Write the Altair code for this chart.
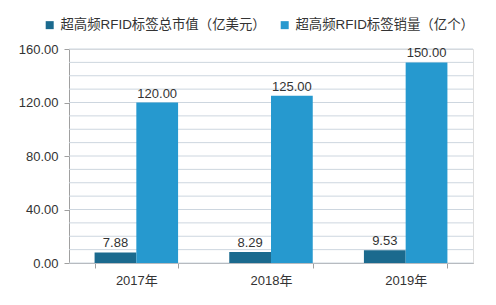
import altair as alt
import pandas as pd

years = ["2017年", "2018年", "2019年"]
series = ["超高频RFID标签总市值（亿美元）", "超高频RFID标签销量（亿个）"]
market_value = [7.88, 8.29, 9.53]
sales = [120.00, 125.00, 150.00]
grid_values = list(range(0, 161, 10))

rows = []
for i, y in enumerate(years):
    rows.append({"year": y, "series": series[0], "value": market_value[i], "order": 0})
    rows.append({"year": y, "series": series[1], "value": sales[i], "order": 1})
df = pd.DataFrame(rows)
grid_df = pd.DataFrame({"g": grid_values})

FONT = "Liberation Sans, Arial, Noto Sans CJK SC"
colors = ["#1B6A8E", "#2699CF"]

xscale = alt.Scale(domain=years, paddingInner=0.38, paddingOuter=0.19)
yscale = alt.Scale(domain=[0, 160], nice=False)

grid = alt.Chart(grid_df).mark_rule(color="#CDD6DF", strokeWidth=1).encode(
    y=alt.Y("g:Q", scale=yscale)
)

bars = alt.Chart(df).mark_bar().encode(
    x=alt.X("year:N", scale=xscale, sort=years,
            axis=alt.Axis(title=None, labelAngle=0, tickBand="extent", domainColor="#A0A0A0",
                          tickColor="#A0A0A0", labelColor="#333333", labelFontSize=13,
                          labelFont=FONT, labelPadding=6, tickSize=5)),
    xOffset=alt.XOffset("series:N", sort=series, scale=alt.Scale(paddingInner=0)),
    y=alt.Y("value:Q", scale=yscale,
            axis=alt.Axis(title=None, values=[0, 40, 80, 120, 160], format=".2f", grid=False,
                          domainColor="#A0A0A0", tickColor="#A0A0A0", labelColor="#333333",
                          labelFontSize=13, labelFont=FONT, tickSize=5, labelPadding=6)),
    color=alt.Color("series:N", sort=series, scale=alt.Scale(domain=series, range=colors),
                    legend=alt.Legend(title=None, orient="none", legendX=-26, legendY=-31,
                                      direction="horizontal", symbolType="square", symbolSize=64,
                                      labelFontSize=13.4, labelFont=FONT, labelColor="#333333",
                                      labelLimit=0, columnPadding=12, labelOffset=4,
                                      symbolStrokeWidth=0)),
)

labels = alt.Chart(df).mark_text(dy=-9, fontSize=13, font=FONT, color="#333333").encode(
    x=alt.X("year:N", scale=xscale, sort=years),
    xOffset=alt.XOffset("series:N", sort=series, scale=alt.Scale(paddingInner=0)),
    y=alt.Y("value:Q", scale=yscale),
    text=alt.Text("value:Q", format=".2f"),
)

chart = alt.layer(grid, bars, labels).properties(
    width=404, height=214,
    autosize=alt.AutoSizeParams(type="none"),
    padding={"left": 61, "top": 41, "right": 15, "bottom": 34},
).configure_view(fill="#EBF2FA", stroke=None).configure(background="white")

chart.save("out.html", embed_options={"renderer": "svg", "actions": False})
